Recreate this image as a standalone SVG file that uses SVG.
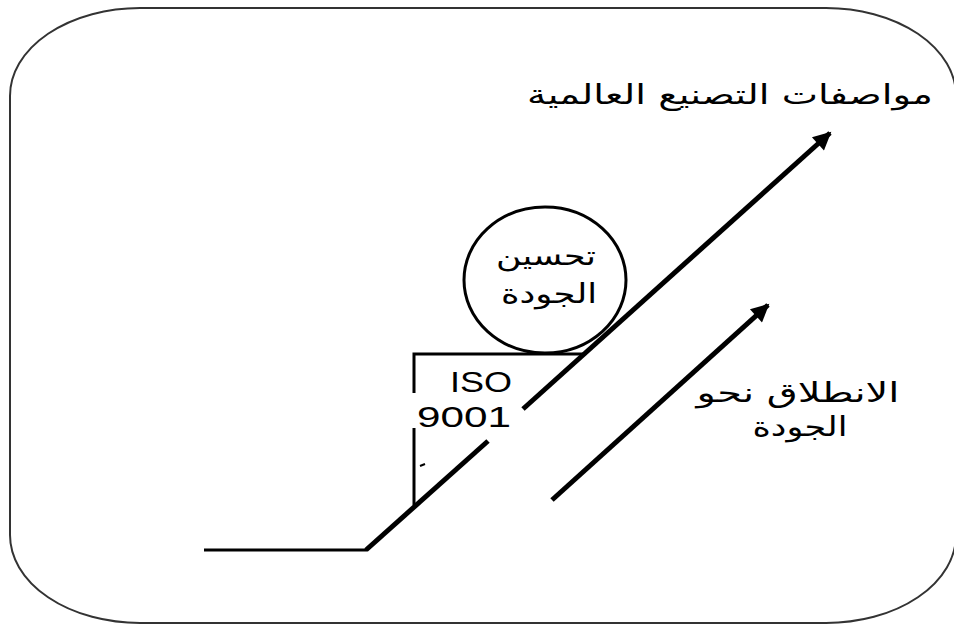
<svg xmlns="http://www.w3.org/2000/svg" width="954" height="624" viewBox="0 0 954 624">
<style>
.frame{fill:none;stroke:#333;stroke-width:2}
.thick{stroke:#000;stroke-width:5;fill:none;stroke-linecap:butt}
.thin{stroke:#000;stroke-width:3;fill:none}
.ar{font-family:"DejaVu Sans",sans-serif;font-size:27px;fill:#000;direction:rtl;text-anchor:middle}
.lat{font-family:"Liberation Sans",Arial,sans-serif;font-size:30px;fill:#000}
</style>
<defs>
<marker id="ah" viewBox="0 0 10 10" refX="9" refY="5" markerWidth="4.4" markerHeight="3.6" orient="auto" markerUnits="strokeWidth">
<path d="M0,0 L10,5 L0,10 Z" fill="#000"/>
</marker>
</defs>
<rect class="frame" x="10" y="8" width="946" height="615" rx="130" ry="88"/>
<g id="base">
<line class="thin" x1="204" y1="550" x2="367" y2="550"/>
</g>
<g id="iso-box">
<polyline class="thin" points="414,393 414,354 585,354"/>
<line class="thin" x1="414" y1="428" x2="414" y2="505"/>
<line x1="420" y1="466" x2="425" y2="464" stroke="#000" stroke-width="2"/>
<text class="lat" x="450" y="392" textLength="62" lengthAdjust="spacingAndGlyphs">ISO</text>
<text class="lat" x="417" y="427" textLength="94" lengthAdjust="spacingAndGlyphs">9001</text>
</g>
<g id="quality-circle">
<ellipse cx="545" cy="280" rx="81" ry="73" fill="none" stroke="#000" stroke-width="3"/>
<text class="ar" x="546" y="265" textLength="100" lengthAdjust="spacingAndGlyphs">تحسين</text>
<text class="ar" x="549" y="303" textLength="96" lengthAdjust="spacingAndGlyphs">الجودة</text>
</g>
<g id="label-standards">
<text class="ar" x="730" y="104" textLength="406" lengthAdjust="spacingAndGlyphs">مواصفات التصنيع العالمية</text>
</g>
<g id="label-start">
<text class="ar" x="798" y="402" textLength="203" lengthAdjust="spacingAndGlyphs">الانطلاق نحو</text>
<text class="ar" x="800" y="436" textLength="95" lengthAdjust="spacingAndGlyphs">الجودة</text>
</g>
<g id="connectors">
<line class="thick" x1="366" y1="550" x2="488" y2="441"/>
<line class="thick" x1="523" y1="409" x2="830" y2="133" marker-end="url(#ah)"/>
<line class="thick" x1="552" y1="500" x2="768" y2="305" marker-end="url(#ah)"/>
</g>
</svg>
